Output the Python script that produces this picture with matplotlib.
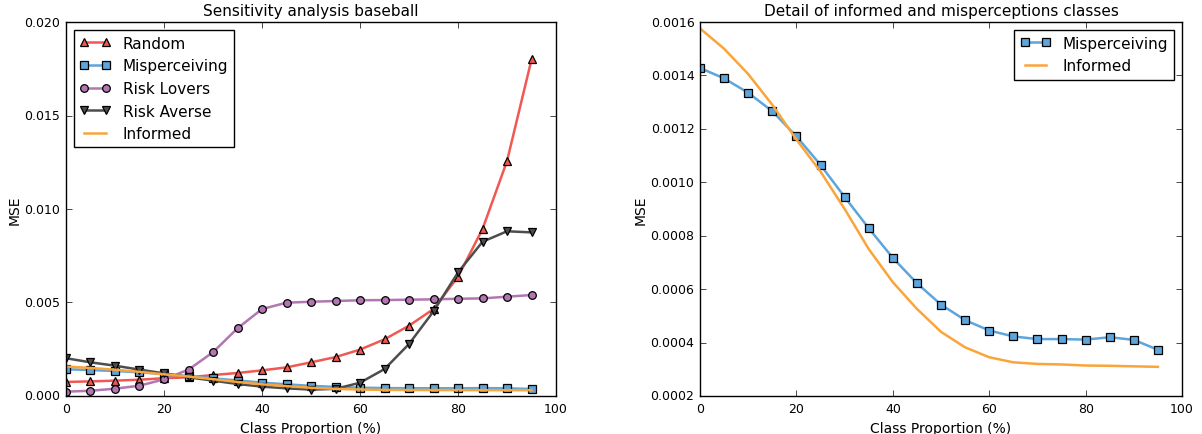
import numpy as np
import matplotlib
matplotlib.use("Agg")
import matplotlib.pyplot as plt

plt.style.use("classic")

# class proportion (%)
proportion = list(range(0, 100, 5))

random_mse = [0.00075, 0.00078, 0.00082, 0.00087, 0.00095, 0.00100, 0.00112, 0.00123,
              0.00137, 0.00153, 0.00180, 0.00208, 0.00248, 0.00303, 0.00376, 0.00465,
              0.00638, 0.00893, 0.01257, 0.01800]
misperceiving_mse = [0.001428, 0.001389, 0.001335, 0.001266, 0.001172, 0.001065, 0.000945,
                     0.000828, 0.000717, 0.000622, 0.000542, 0.000484, 0.000445, 0.000423,
                     0.000413, 0.000413, 0.000411, 0.000420, 0.000410, 0.000373]
risk_lovers_mse = [0.00023, 0.00028, 0.00039, 0.00055, 0.00089, 0.00141, 0.00234, 0.00362,
                   0.00465, 0.00499, 0.00504, 0.00508, 0.00512, 0.00513, 0.00515, 0.00517,
                   0.00520, 0.00522, 0.00531, 0.00540]
risk_averse_mse = [0.00202, 0.00180, 0.00162, 0.00141, 0.00121, 0.00100, 0.00082, 0.00064,
                   0.00050, 0.00041, 0.00034, 0.00038, 0.00071, 0.00144, 0.00278, 0.00453,
                   0.00661, 0.00825, 0.00881, 0.00875]
informed_mse = [0.001576, 0.001500, 0.001405, 0.001290, 0.001160, 0.001040, 0.000900,
                0.000750, 0.000626, 0.000526, 0.000440, 0.000382, 0.000345, 0.000326,
                0.000320, 0.000318, 0.000314, 0.000313, 0.000311, 0.000309]

RED, BLUE, PURPLE, GRAY, ORANGE = "#F15854", "#5DA5DA", "#B276B2", "#4D4D4D", "#FAA43A"

fig = plt.figure(figsize=(12.02, 4.35), dpi=100, facecolor="white")
ax1 = fig.add_axes([0.0549, 0.0874, 0.4077, 0.8596])
ax2 = fig.add_axes([0.5824, 0.0874, 0.4010, 0.8596])

# shared marker look
mk = dict(markeredgecolor="black", markeredgewidth=0.9, markersize=5.5, linewidth=1.8)

ax1.plot(proportion, random_mse, marker="^", color=RED, markerfacecolor=RED, label="Random", **mk)
ax1.plot(proportion, misperceiving_mse, marker="s", color=BLUE, markerfacecolor=BLUE, label="Misperceiving", **mk)
ax1.plot(proportion, risk_lovers_mse, marker="o", color=PURPLE, markerfacecolor=PURPLE, label="Risk Lovers", **mk)
ax1.plot(proportion, risk_averse_mse, marker="v", color=GRAY, markerfacecolor=GRAY, label="Risk Averse", **mk)
ax1.plot(proportion, informed_mse, color=ORANGE, linewidth=1.8, label="Informed")
ax1.set_xlim(0, 100)
ax1.set_ylim(0, 0.020)
ax1.set_yticks(np.arange(0, 0.0201, 0.005))
ax1.set_title("Sensitivity analysis baseball", fontsize=11)
ax1.set_xlabel("Class Proportion (%)", fontsize=10)
ax1.set_ylabel("MSE", fontsize=10, labelpad=2)
ax1.legend(loc="upper left", fontsize=11, numpoints=2)

ax2.plot(proportion, misperceiving_mse, marker="s", color=BLUE, markerfacecolor=BLUE, label="Misperceiving", **mk)
ax2.plot(proportion, informed_mse, color=ORANGE, linewidth=1.8, label="Informed")
ax2.set_xlim(0, 100)
ax2.set_ylim(0.0002, 0.0016)
ax2.set_yticks(np.arange(0.0002, 0.00161, 0.0002))
ax2.set_title("Detail of informed and misperceptions classes", fontsize=11)
ax2.set_xlabel("Class Proportion (%)", fontsize=10)
ax2.set_ylabel("MSE", fontsize=10, labelpad=2)
ax2.legend(loc="upper right", fontsize=11, numpoints=2)

for ax in (ax1, ax2):
    ax.tick_params(labelsize=9)
    ax.yaxis.get_major_formatter().set_useOffset(False)

fig.savefig("out.png", dpi=100, facecolor="white")
